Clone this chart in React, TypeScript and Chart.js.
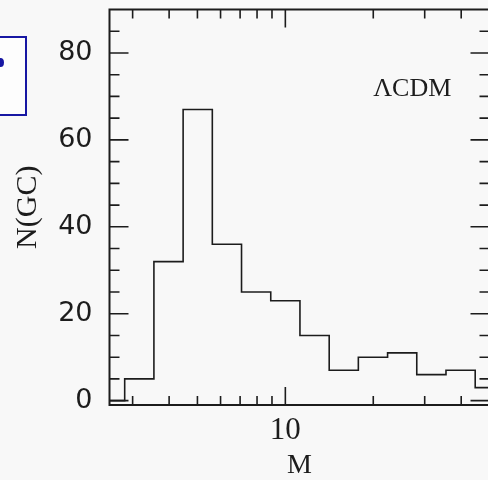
import React, { useEffect, useRef } from "react";
import { Chart, registerables } from "chart.js";

Chart.register(...registerables);

// Histogram bin edges in M (log-spaced, 0.1 dex) and counts per bin
const binEdges = [2.239, 2.818, 3.548, 4.467, 5.623, 7.079, 8.913, 11.22, 14.13, 17.78, 22.39, 28.18, 35.48, 44.67, 56.23];
const counts = [0, 5, 32, 67, 36, 25, 23, 15, 7, 10, 11, 6, 7, 3];

const xTickValues = [3, 4, 5, 6, 7, 8, 9, 10, 20, 30, 40];
const xMajor = [10];
const yTickValues = [0, 5, 10, 15, 20, 25, 30, 35, 40, 45, 50, 55, 60, 65, 70, 75, 80, 85];
const yMajorStep = 20;

const xTitle = "M";
const yTitle = "N(GC)";
const annotationText = "ΛCDM";
const annotationPos = { x: 20, y: 70 };

const INK = "#1c1c1c";
const SERIF = '"Liberation Serif", "Times New Roman", serif';
const SANS = '"DejaVu Sans", sans-serif';

const framePlugin = {
  id: "frameTicks",
  afterDatasetsDraw(chart: any) {
    const { ctx, chartArea: a, scales } = chart;
    const xs = scales.x;
    const ys = scales.y;
    ctx.save();
    ctx.strokeStyle = INK;
    ctx.lineWidth = 1.6;
    ctx.beginPath();
    xs.ticks.forEach((t: any) => {
      const px = xs.getPixelForValue(t.value);
      const len = xMajor.includes(t.value) ? 18 : 9;
      ctx.moveTo(px, a.bottom);
      ctx.lineTo(px, a.bottom - len);
      ctx.moveTo(px, a.top);
      ctx.lineTo(px, a.top + len);
    });
    ys.ticks.forEach((t: any) => {
      const py = ys.getPixelForValue(t.value);
      const len = t.value % yMajorStep === 0 ? 19 : 10;
      ctx.moveTo(a.left, py);
      ctx.lineTo(a.left + len, py);
      ctx.moveTo(a.right, py);
      ctx.lineTo(a.right - len, py);
    });
    ctx.stroke();
    ctx.lineWidth = 2;
    ctx.strokeRect(a.left, a.top, a.right - a.left, a.bottom - a.top);
    ctx.font = `26px ${SERIF}`;
    ctx.fillStyle = INK;
    ctx.textAlign = "left";
    ctx.textBaseline = "alphabetic";
    ctx.fillText(annotationText, xs.getPixelForValue(annotationPos.x), ys.getPixelForValue(annotationPos.y));
    ctx.restore();
  },
};

export default function App() {
  const ref = useRef<HTMLCanvasElement>(null);

  useEffect(() => {
    if (!ref.current) return;
    const points = counts.map((c, i) => ({ x: binEdges[i], y: c }));
    points.push({ x: binEdges[counts.length], y: counts[counts.length - 1] });

    const chart = new Chart(ref.current, {
      type: "line",
      data: {
        datasets: [
          {
            data: points,
            stepped: "before",
            borderColor: INK,
            borderWidth: 1.6,
            pointRadius: 0,
            fill: false,
          },
        ],
      },
      options: {
        animation: false,
        responsive: false,
        devicePixelRatio: 1,
        layout: { padding: { top: 9.5, right: 10.5, left: 0, bottom: 0 } },
        plugins: { legend: { display: false }, tooltip: { enabled: false } },
        scales: {
          x: {
            type: "logarithmic",
            min: 2.5,
            max: 50,
            grid: { display: false, drawTicks: false },
            border: { display: false },
            afterBuildTicks: (s: any) => {
              s.ticks = xTickValues.map((v) => ({ value: v, major: xMajor.includes(v) }));
            },
            afterFit: (s: any) => {
              s.height = 75;
              s.paddingLeft = 0;
              s.paddingRight = 0;
            },
            ticks: {
              autoSkip: false,
              maxRotation: 0,
              padding: 10,
              color: INK,
              font: { family: SERIF, size: 31, lineHeight: 1 },
              callback: (v: any) => (xMajor.includes(Number(v)) ? String(v) : ""),
            },
            title: {
              display: true,
              text: xTitle,
              color: INK,
              font: { family: SERIF, size: 28, lineHeight: 1 },
              padding: { top: 0, bottom: 0 },
            },
          },
          y: {
            type: "linear",
            min: -1,
            max: 90,
            grid: { display: false, drawTicks: false },
            border: { display: false },
            afterBuildTicks: (s: any) => {
              s.ticks = yTickValues.map((v) => ({ value: v }));
            },
            afterFit: (s: any) => {
              s.width = 109.5;
              s.paddingTop = 0;
              s.paddingBottom = 0;
            },
            ticks: {
              autoSkip: false,
              padding: 17,
              color: INK,
              font: { family: SANS, size: 27, lineHeight: 1 },
              callback: (v: any) => (Number(v) % yMajorStep === 0 ? String(v) : ""),
            },
            title: {
              display: true,
              text: yTitle,
              color: INK,
              font: { family: SERIF, size: 30, lineHeight: 1 },
              padding: { top: 13, bottom: 0 },
            },
          },
        },
      },
      plugins: [framePlugin],
    });
    return () => chart.destroy();
  }, []);

  return (
    <div
      style={{
        position: "fixed",
        left: 0,
        top: 0,
        width: 488,
        height: 480,
        overflow: "hidden",
        background: "#f8f8f8",
      }}
    >
      <canvas ref={ref} width={500} height={480} style={{ position: "absolute", left: 0, top: 0, width: 500, height: 480 }} />
      <div
        style={{
          position: "absolute",
          left: -10,
          top: 36,
          width: 33,
          height: 76,
          border: "2px solid #1717a3",
          background: "#fdfdfd",
        }}
      >
        <div
          style={{
            position: "absolute",
            left: 5,
            top: 20,
            width: 7,
            height: 9,
            borderRadius: "50%",
            background: "#1717a3",
          }}
        />
      </div>
    </div>
  );
}
